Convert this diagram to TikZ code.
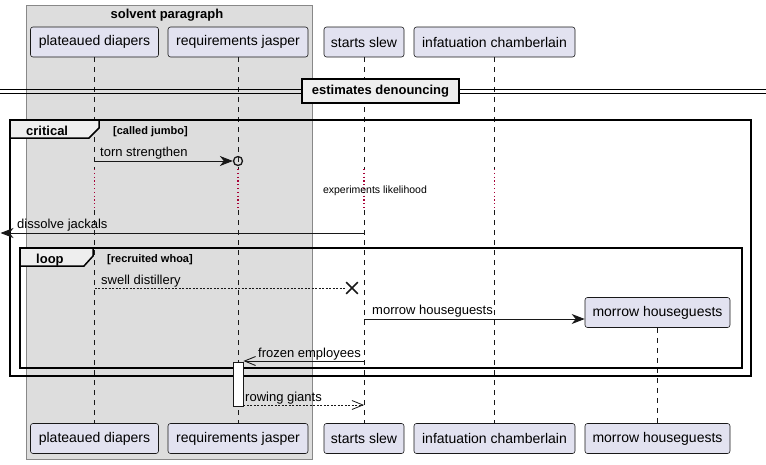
\documentclass[tikz,border=0pt]{standalone}
\usepackage{fontspec}
\setmainfont{Liberation Sans}
\usetikzlibrary{arrows.meta,shapes.misc}
\begin{document}
\begin{tikzpicture}[x=1pt,y=-1pt,
  actor/.style={draw=partline,fill=partfill,rounded corners=2.5pt,line width=0.6pt,minimum height=30pt,inner sep=0pt,font=\fontsize{14}{16}\selectfont},
  lifeline/.style={draw=partline,line width=0.6pt,dash pattern=on 5pt off 5pt},
  delayline/.style={draw=delayred,line width=1.1pt,dash pattern=on 1.2pt off 2.6pt},
  frame/.style={draw=black,line width=1.5pt},
  tab/.style={draw=black,line width=1.5pt,fill=tabfill},
  msg/.style={font=\fontsize{13}{15}\selectfont,inner sep=0pt,anchor=base west},
  guard/.style={font=\fontsize{11}{13}\selectfont\bfseries,inner sep=0pt,anchor=base west},
  line/.style={draw=partline,line width=0.9pt},
  bigtip/.style={-{Stealth[length=13pt,width=10pt,inset=4pt]}},
  opentip/.style={-{Straight Barb[length=11pt,width=9pt]}}]
\definecolor{partfill}{HTML}{E2E2F0}
\definecolor{partline}{HTML}{181818}
\definecolor{groupfill}{HTML}{DDDDDD}
\definecolor{groupline}{HTML}{888888}
\definecolor{tabfill}{HTML}{EEEEEE}
\definecolor{delayred}{HTML}{A80036}

\useasboundingbox (0,0) rectangle (766,464);

\path[draw=groupline,fill=groupfill,line width=0.8pt] (26,5) rectangle (312,459);
\node[font=\fontsize{13}{15}\selectfont\bfseries,inner sep=0pt,anchor=base] (grp) at (167,18) {solvent paragraph};

\node[actor, minimum width=128] (pdt) at (94.5,42) {plateaued diapers};
\node[actor, minimum width=140] (rjt) at (238,42) {requirements jasper};
\node[actor, minimum width=80] (sst) at (364,42) {starts slew};
\node[actor, minimum width=161] (ict) at (494.5,42) {infatuation chamberlain};
\node[actor, minimum width=128] (pdb) at (94.5,438.5) {plateaued diapers};
\node[actor, minimum width=140] (rjb) at (238,438.5) {requirements jasper};
\node[actor, minimum width=80] (ssb) at (364,438.5) {starts slew};
\node[actor, minimum width=161] (icb) at (494.5,438.5) {infatuation chamberlain};
\node[actor, minimum width=145] (mhb) at (657.5,438.5) {morrow houseguests};
\node[actor, minimum width=145] (mhc) at (657.5,312.5) {morrow houseguests};

\coordinate (pd1) at (94.5,169);
\coordinate (pd2) at (94.5,210);
\coordinate (rj1) at (238,169);
\coordinate (rj2) at (238,210);
\coordinate (ss1) at (364,169);
\coordinate (ss2) at (364,210);
\coordinate (ic1) at (494.5,169);
\coordinate (ic2) at (494.5,210);

\path[lifeline] (pdt) -- (pd1);
\path[lifeline] (pd2) -- (pdb);
\path[lifeline] (rjt) -- (rj1);
\path[lifeline] (rj2) -- (rjb);
\path[lifeline] (sst) -- (ss1);
\path[lifeline] (ss2) -- (ssb);
\path[lifeline] (ict) -- (ic1);
\path[lifeline] (ic2) -- (icb);
\path[lifeline] (mhc) -- (mhb);
\path[delayline] (pd1) -- (pd2);
\path[delayline] (rj1) -- (rj2);
\path[delayline] (ss1) -- (ss2);
\path[delayline] (ic1) -- (ic2);

\path[draw=black,line width=0.9pt] (0,89.5) -- (766,89.5);
\path[draw=black,line width=0.9pt] (0,93.5) -- (766,93.5);
\node[draw=black,line width=1.5pt,fill=tabfill,minimum width=157,minimum height=24,inner sep=0pt,font=\fontsize{13}{15}\selectfont\bfseries] (div) at (380.5,91) {estimates denouncing};

\path[frame] (10,120) rectangle (751,376);
\path[tab] (10,120) -- (99,120) -- (99,128) -- (89,138) -- (10,138) -- cycle;
\node[msg,font=\fontsize{13}{15}\selectfont\bfseries] (crit) at (26,135) {critical};
\node[guard] (critg) at (113,134) {[called jumbo]};

\coordinate (ts1) at (94.5,161);
\node[circle,draw=partline,line width=1.3pt,minimum size=9pt,inner sep=0pt] (tsc) at (238,161) {};
\path[line,bigtip] (ts1) -- (tsc);
\node[msg] (tsl) at (100,156) {torn strengthen};

\node[font=\fontsize{10.5}{12}\selectfont,inner sep=0pt,anchor=base] (delay) at (375,193) {experiments likelihood};

\coordinate (dj1) at (364,233);
\coordinate (dj2) at (0.5,233);
\path[line,bigtip] (dj1) -- (dj2);
\node[msg] (djl) at (17,228) {dissolve jackals};

\path[frame] (20,248) rectangle (742,368);
\path[tab] (20,248) -- (93,248) -- (93,256) -- (84,266) -- (20,266) -- cycle;
\node[msg,font=\fontsize{13}{15}\selectfont\bfseries] (loop) at (36,263) {loop};
\node[guard] (loopg) at (107,262) {[recruited whoa]};

\coordinate (sd1) at (94.5,288);
\node[cross out,draw=partline,line width=1.6pt,minimum size=10pt,inner sep=0pt] (sdx) at (352,288) {};
\path[line,line width=0.8pt,dash pattern=on 2pt off 1.5pt] (sd1) -- (sdx);
\node[msg] (sdl) at (101,284) {swell distillery};

\coordinate (mh1) at (364,319);
\path[line,bigtip] (mh1) -- (mh1 -| mhc.west);
\node[msg] (mhl) at (372,314) {morrow houseguests};

\node[draw=partline,fill=white,line width=0.8pt,minimum width=10pt,minimum height=44pt,inner sep=0pt] (act) at (238,384) {};

\coordinate (fe1) at (364,361);
\path[line,opentip] (fe1) -- (fe1 -| act.east);
\node[msg,anchor=base east] (fel) at (361,357) {frozen employees};

\coordinate (rg1) at (364,405);
\path[line,opentip,line width=0.8pt,dash pattern=on 2pt off 1.5pt] (rg1 -| act.east) -- (rg1);
\node[msg] (rgl) at (245,401) {rowing giants};
\end{tikzpicture}
\end{document}
